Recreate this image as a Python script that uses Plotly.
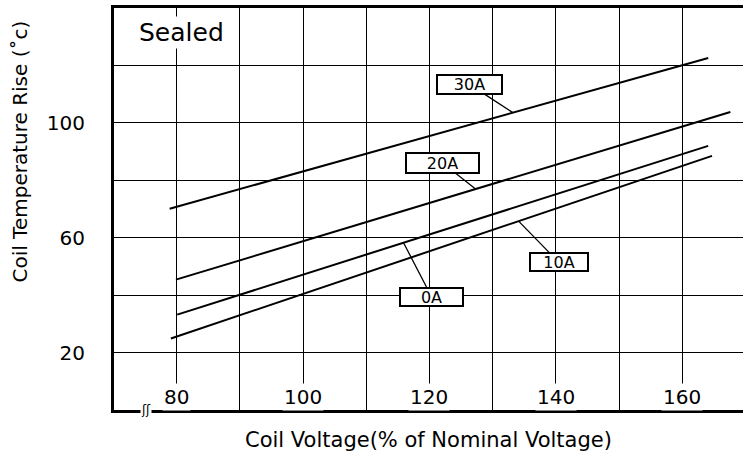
import numpy as np
import plotly.graph_objects as go

# curves (labels as the leaders point to them)
curve_names = ["30A", "20A", "0A", "10A"]
curve_x = [
    [78.9, 164.1],
    [79.9, 167.6],
    [80.1, 164.1],
    [79.1, 164.7],
]
curve_y = [
    [70.1, 122.6],
    [45.4, 103.8],
    [33.2, 92.0],
    [24.9, 88.5],
]

# where each leader touches its curve
leader_x = [133.2, 127.3, 115.9, 134.1]

x_grid = [80, 90, 100, 110, 120, 130, 140, 150, 160]
x_tick_vals = [80, 100, 120, 140, 160]
y_grid = [20, 40, 60, 80, 100, 120]
y_tick_text = ["20", "", "60", "", "100", ""]

font = "DejaVu Sans"

fig = go.Figure()
for xs, ys, name in zip(curve_x, curve_y, curve_names):
    fig.add_trace(go.Scatter(
        x=xs, y=ys, mode="lines", name=name,
        line=dict(color="black", width=2),
        hoverinfo="skip", showlegend=False,
    ))

# label boxes: (ax, ay) offsets in px and box size
box_offsets = [(-43, -28), (-33, -26), (28, 54), (40, 41)]
box_sizes = [(63, 17), (71, 18), (61, 16), (56, 16)]
annotations = []
for name, xs, ys, lx, (ax, ay), (w, h) in zip(curve_names, curve_x, curve_y,
                                               leader_x, box_offsets, box_sizes):
    annotations.append(dict(
        x=lx, y=float(np.interp(lx, xs, ys)), xref="x", yref="y",
        text=name, showarrow=True, arrowhead=0, arrowwidth=1.3,
        arrowcolor="black", ax=ax, ay=ay,
        width=w, height=h, bgcolor="white", bordercolor="black",
        borderwidth=2, borderpad=0,
        font=dict(family=font, size=16, color="black"),
    ))

# x tick labels sit inside the frame on a white patch
for v in x_tick_vals:
    annotations.append(dict(
        x=v, y=0.032, xref="x", yref="paper", text=str(v),
        xanchor="center", yanchor="middle",
        showarrow=False, bgcolor="white", borderpad=1,
        font=dict(family=font, size=20, color="black"),
    ))

annotations += [
    dict(x=80.8, y=131.5, xref="x", yref="y", text="Sealed", showarrow=False,
         bgcolor="white", font=dict(family=font, size=25, color="black")),
    dict(x=-0.15, y=0.642, xref="paper", yref="paper",
         xanchor="center", yanchor="middle",
         text="Coil Temperature Rise (˚c)", textangle=-90, showarrow=False,
         font=dict(family=font, size=20, color="black")),
    dict(x=0.5, y=-0.075, xref="paper", yref="paper",
         xanchor="center", yanchor="middle",
         text="Coil Voltage(% of Nominal Voltage)", showarrow=False,
         font=dict(family=font, size=21, color="black")),
    dict(x=75.2, y=0, xref="x", yref="y", text="ʃʃ", showarrow=False,
         bgcolor="white", borderpad=0,
         font=dict(family=font, size=12, color="black")),
]

fig.update_layout(
    width=743, height=455,
    margin=dict(l=114, r=0, t=8, b=45),
    paper_bgcolor="white", plot_bgcolor="white",
    showlegend=False,
    annotations=annotations,
    xaxis=dict(
        range=[70.1, 169.6], tickvals=x_grid, showticklabels=False,
        showgrid=True, gridcolor="black", gridwidth=1.3,
        showline=True, linecolor="black", linewidth=3, mirror=True,
        zeroline=False, ticks="", automargin=False,
    ),
    yaxis=dict(
        range=[0, 140], tickvals=y_grid, ticktext=y_tick_text,
        showgrid=True, gridcolor="black", gridwidth=1.3,
        showline=True, linecolor="black", linewidth=3,
        zeroline=False, ticks="", ticklabelstandoff=22, automargin=False,
        tickfont=dict(family=font, size=20, color="black"),
    ),
)

fig.write_html("out.html", config={"displayModeBar": False},
               post_script="document.body.style.margin='0px';")
